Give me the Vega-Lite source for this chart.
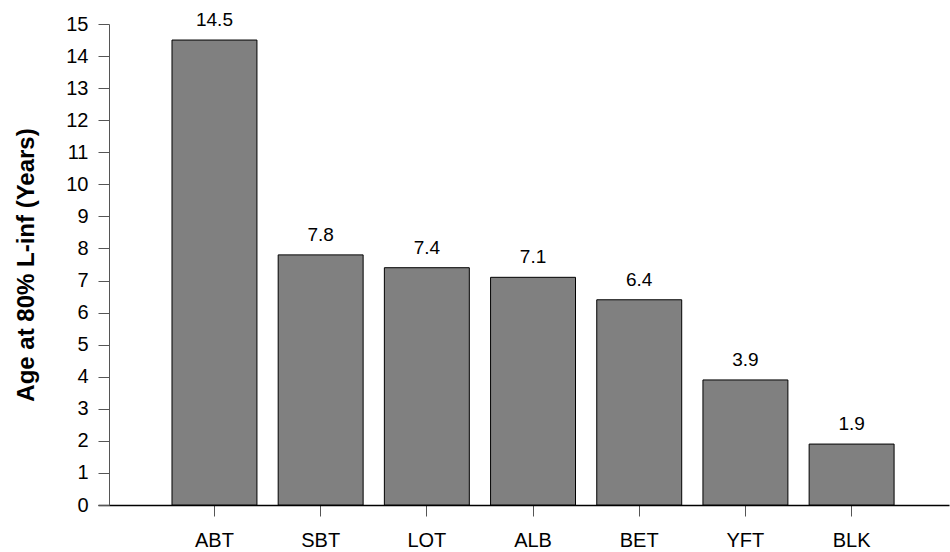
{
  "$schema": "https://vega.github.io/schema/vega-lite/v6.json",
  "autosize": "none",
  "width": 851,
  "height": 481,
  "padding": {"left": 98, "top": 24, "right": 1, "bottom": 47},
  "background": "white",
  "config": {"view": {"stroke": null}, "font": "Liberation Sans"},
  "data": {"values": [
    {"species": "ABT", "age": 14.5},
    {"species": "SBT", "age": 7.8},
    {"species": "LOT", "age": 7.4},
    {"species": "ALB", "age": 7.1},
    {"species": "BET", "age": 6.4},
    {"species": "YFT", "age": 3.9},
    {"species": "BLK", "age": 1.9}
  ]},
  "encoding": {
    "x": {
      "field": "species", "type": "nominal", "sort": null,
      "scale": {"paddingInner": 0.2, "paddingOuter": 0.607, "align": 0.574},
      "axis": {
        "title": null, "labelAngle": 0, "labelFontSize": 20, "labelColor": "black",
        "labelPadding": 14, "tickSize": 11, "tickColor": "#555", "tickWidth": 1,
        "domainColor": "black", "domainWidth": 1.5, "grid": false
      }
    },
    "y": {
      "field": "age", "type": "quantitative",
      "scale": {"domain": [0, 15], "nice": false},
      "axis": {
        "title": "Age at 80% L-inf (Years)", "titleFontSize": 24, "titleFontWeight": "bold",
        "titleColor": "black", "titlePadding": 27,
        "values": [0,1,2,3,4,5,6,7,8,9,10,11,12,13,14,15],
        "offset": -11, "tickSize": 11, "tickColor": "#555", "domainColor": "#555",
        "labelFontSize": 20, "labelColor": "black", "labelPadding": 10, "grid": false
      }
    }
  },
  "layer": [
    {"mark": {"type": "bar", "color": "#808080", "stroke": "black", "strokeWidth": 1}},
    {"mark": {"type": "text", "baseline": "alphabetic", "dy": -14, "fontSize": 19, "color": "black"},
     "encoding": {"text": {"field": "age", "type": "quantitative", "format": ".1f"}}}
  ]
}
